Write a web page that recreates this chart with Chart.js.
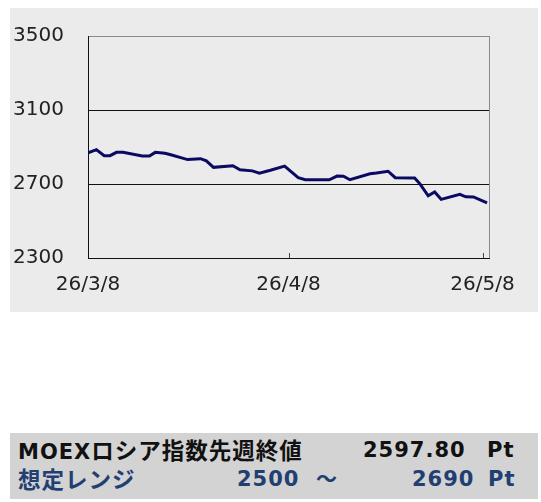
<!DOCTYPE html>
<html>
<head>
<meta charset="utf-8">
<script src="https://cdn.jsdelivr.net/npm/chart.js@4.4.1/dist/chart.umd.min.js"></script>
<style>
  html, body { margin: 0; padding: 0; background: #ffffff; }
  body { width: 541px; height: 502px; position: relative; overflow: hidden; }
  #chartBox { position: absolute; left: 10px; top: 8px; width: 528px; height: 304px; background: #ebebeb; }
  #summary { position: absolute; left: 10px; top: 433px; width: 528px; height: 66px; background: #d3d3d3;
    font-family: "DejaVu Sans", "Noto Sans CJK JP", sans-serif; font-weight: bold; font-size: 21px; letter-spacing: 1px; }
  #summary > span { position: absolute; white-space: nowrap; line-height: 1; }
  #summary .jp { font-size: 22.5px; }
  .row1 { top: 7px; color: #111111; }
  .row2 { top: 36px; color: #223f72; }
</style>
</head>
<body>
<div id="chartBox"><canvas id="moexChart" width="528" height="304"></canvas></div>
<div id="summary">
  <span class="row1" style="left:8px">MOEX<span class="jp">ロシア指数先週終値</span></span>
  <span class="row1" style="left:353px">2597.80</span>
  <span class="row1" style="left:477px">Pt</span>
  <span class="row2" style="left:8px"><span class="jp">想定レンジ</span></span>
  <span class="row2" style="left:227px">2500</span>
  <span class="row2" style="left:306px">～</span>
  <span class="row2" style="left:402px">2690</span>
  <span class="row2" style="left:478px">Pt</span>
</div>
<script>
// days counted from 26/3/8
const dayOffsets = [0, 1.3, 2.5, 3.4, 4.4, 5.4, 8.4, 9.5, 10.4, 11.9, 12.8, 15.4, 17.4, 18.3, 19.4, 22.4, 23.5, 25.4, 26.5, 28.2,
  30.4, 32.5, 33.6, 37.3, 38.5, 39.5, 40.5, 43.6, 44.6, 46.4, 47.5, 50.5, 51.3, 52.6, 53.6, 54.6, 57.5, 58.4, 59.6, 61.7];
const moexValues = [2869, 2886, 2853, 2853, 2871, 2871, 2851, 2851, 2871, 2866, 2858, 2832, 2837, 2825, 2790, 2799, 2777, 2771, 2758, 2774,
  2797, 2734, 2723, 2723, 2743, 2742, 2723, 2755, 2759, 2769, 2734, 2732, 2702, 2636, 2657, 2617, 2644, 2631, 2630, 2598];

const xTickDays = [0, 31, 61];
const xTickLabels = ['26/3/8', '26/4/8', '26/5/8'];
const yTicks = [2300, 2700, 3100, 3500];

// right border + inner tick marks on the date axis
const frameExtras = {
    id: 'frameExtras',
    afterDatasetsDraw(chart) {
        const { ctx, chartArea, scales } = chart;
        ctx.save();
        ctx.strokeStyle = '#8a8a8a';
        ctx.lineWidth = 1;
        ctx.beginPath();
        ctx.moveTo(chartArea.right + 0.5, chartArea.top);
        ctx.lineTo(chartArea.right + 0.5, chartArea.bottom);
        ctx.stroke();
        ctx.strokeStyle = '#444';
        xTickDays.slice(1).forEach(d => {
            const px = Math.round(scales.x.getPixelForValue(d)) + 0.5;
            ctx.beginPath();
            ctx.moveTo(px, chartArea.bottom);
            ctx.lineTo(px, chartArea.bottom - 5);
            ctx.stroke();
        });
        ctx.restore();
    }
};

const ctx = document.getElementById('moexChart').getContext('2d');
new Chart(ctx, {
    type: 'line',
    data: {
        datasets: [{
            data: dayOffsets.map((d, i) => ({ x: d, y: moexValues[i] })),
            borderColor: '#0a0a62',
            borderWidth: 3,
            pointRadius: 0,
            tension: 0,
            fill: false
        }]
    },
    options: {
        responsive: false,
        animation: false,
        layout: { padding: { top: 28, right: 49, left: 3, bottom: 0 } },
        plugins: { legend: { display: false }, tooltip: { enabled: false } },
        scales: {
            x: {
                type: 'linear',
                min: 0,
                max: 62,
                afterBuildTicks: s => { s.ticks = xTickDays.map(v => ({ value: v })); },
                afterFit: s => { s.height = 54; },
                grid: { display: false, drawTicks: false },
                border: { display: true, color: '#111', width: 1 },
                ticks: {
                    padding: 15,
                    color: '#222',
                    font: { family: 'DejaVu Sans', size: 20 },
                    maxRotation: 0,
                    autoSkip: false,
                    callback: v => xTickLabels[xTickDays.indexOf(v)]
                }
            },
            y: {
                min: 2300,
                max: 3500,
                afterBuildTicks: s => { s.ticks = yTicks.map(v => ({ value: v })); },
                afterFit: s => { s.width = 75; },
                grid: {
                    drawTicks: false,
                    color: c => (c.tick && c.tick.value === 3500) ? '#8a8a8a' : '#111',
                    lineWidth: 1
                },
                border: { display: true, color: '#111', width: 1 },
                ticks: {
                    crossAlign: 'far',
                    color: '#222',
                    font: { family: 'DejaVu Sans', size: 20 },
                    callback: v => String(v)
                }
            }
        }
    },
    plugins: [frameExtras]
});
</script>
</body>
</html>
